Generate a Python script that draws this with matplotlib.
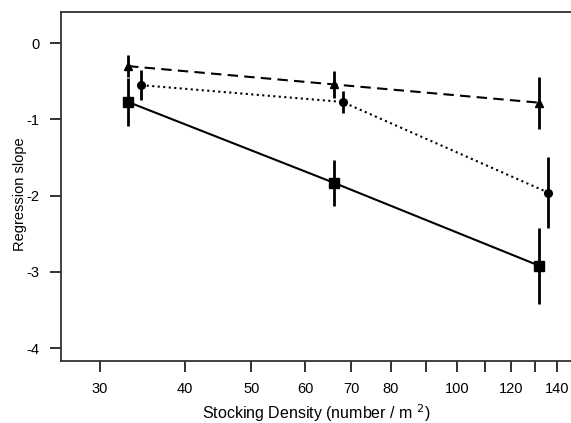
import matplotlib
matplotlib.use("Agg")
import matplotlib.pyplot as plt
from matplotlib.ticker import FixedLocator, NullLocator

plt.rcParams['font.family'] = ['Liberation Sans', 'DejaVu Sans']

# density groups (number / m2)
x_sq = [33, 66, 132]
x_tri = [33, 66, 132]
x_circ = [34.5, 68, 136]

y_sq = [-0.77, -1.83, -2.92]
e_sq = [0.32, 0.30, 0.50]
y_tri = [-0.30, -0.54, -0.78]
e_tri = [0.14, 0.18, 0.34]
y_circ = [-0.55, -0.77, -1.96]
e_circ = [0.20, 0.14, 0.47]

xticks = [30, 40, 50, 60, 70, 80, 90, 100, 110, 120, 130, 140]
xlabels = ["30", "40", "50", "60", "70", "80", "", "100", "", "120", "", "140"]
yticks = [0, -1, -2, -3, -4]

fig = plt.figure(figsize=(5.71, 4.23), dpi=100)
ax = fig.add_axes([0.1063, 0.1466, 0.8937, 0.825])

ax.errorbar(x_sq, y_sq, yerr=e_sq, fmt='s-', color='black', ms=7.5, lw=1.5,
            elinewidth=2, capsize=0)
ax.errorbar(x_tri, y_tri, yerr=e_tri, fmt='^--', color='black', ms=6, lw=1.5,
            elinewidth=2, capsize=0, dashes=(5, 3))
ax.errorbar(x_circ, y_circ, yerr=e_circ, fmt='o:', color='black', ms=5.5, lw=1.5,
            elinewidth=2, capsize=0)

ax.set_xscale('log')
ax.set_xlim(26.3, 146.9)
ax.set_ylim(-4.17, 0.41)
ax.xaxis.set_major_locator(FixedLocator(xticks))
ax.xaxis.set_minor_locator(NullLocator())
ax.set_xticklabels(xlabels)
ax.set_yticks(yticks)
ax.set_yticklabels([str(v) for v in yticks])

for s in ['left', 'bottom', 'top']:
    ax.spines[s].set_linewidth(1.3)
    ax.spines[s].set_color('#333333')
ax.spines['right'].set_visible(False)
ax.tick_params(direction='out', length=8, width=1.3, labelsize=10.5, pad=7, color='#222222')

ax.set_xlabel("Stocking Density (number / m $^{2}$)", fontsize=11.5, labelpad=5)
ax.set_ylabel("Regression slope", fontsize=10.5)
ax.yaxis.set_label_coords(-0.066, 0.478)

fig.savefig("out.png", dpi=100)
